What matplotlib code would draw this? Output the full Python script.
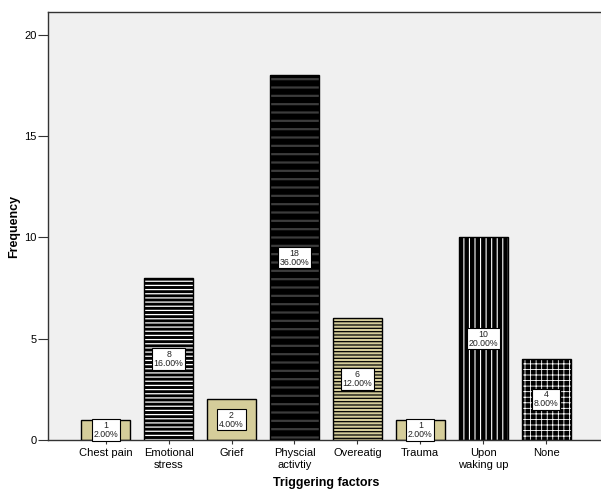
import matplotlib
matplotlib.use("Agg")
import matplotlib.pyplot as plt

categories = ["Chest pain", "Emotional\nstress", "Grief", "Physcial\nactivtiy",
              "Overeatig", "Trauma", "Upon\nwaking up", "None"]
counts = [1, 8, 2, 18, 6, 1, 10, 4]
percents = ["2.00%", "16.00%", "4.00%", "36.00%", "12.00%", "2.00%", "20.00%", "8.00%"]
yticks = [0, 5, 10, 15, 20]

khaki = "#D5CD9A"
fills = [khaki, "black", khaki, "black", khaki, khaki, "black", "black"]
hatches = [None, "----", None, "--", "-----", None, "|||", "+++"]
hatch_colors = [khaki, "white", khaki, "#3c3c3c", "black", khaki, "white", "white"]
hatch_lw = [1.0, 0.9, 1.0, 1.6, 0.9, 1.0, 0.8, 0.6]

plt.rcParams['font.family'] = ['Liberation Sans', 'DejaVu Sans']

fig = plt.figure(figsize=(6.01, 4.91), dpi=100)
fig.patch.set_facecolor("white")
ax = fig.add_axes([48/601, 51/491, (604-48)/601, 428/491])
ax.set_facecolor("#F0F0F0")

x = list(range(len(categories)))
w = 0.78
for i in x:
    with plt.rc_context({'hatch.linewidth': hatch_lw[i]}):
        ax.bar(i, counts[i], width=w, color=fills[i], hatch=hatches[i],
               edgecolor=hatch_colors[i], linewidth=0, zorder=2)
    ax.bar(i, counts[i], width=w, fill=False, edgecolor="black",
           linewidth=1.0, zorder=3)
    ax.text(i, counts[i] / 2, f"{counts[i]}\n{percents[i]}", ha="center", va="center",
            fontsize=6.3, linespacing=1.0, zorder=5, color="#222222",
            bbox=dict(boxstyle="square,pad=0.2", facecolor="white",
                      edgecolor="black", linewidth=0.8))

ax.set_xlim(-0.917, 7.92)
ax.set_ylim(0, 21.13)
ax.set_xticks(x)
ax.set_xticklabels(categories, fontsize=8, linespacing=1.25)
ax.set_yticks(yticks)
ax.set_yticklabels([str(v) for v in yticks], fontsize=8)
ax.tick_params(axis="y", length=7, width=0.8, pad=1, color="#333333")
ax.tick_params(axis="x", length=3, width=0.8, pad=3, color="#333333")

for s in ["left", "top", "bottom"]:
    ax.spines[s].set_color("#333333")
    ax.spines[s].set_linewidth(1.0)
ax.spines["right"].set_visible(False)

ax.set_xlabel("Triggering factors", fontsize=9, fontweight="bold", labelpad=5)
ax.set_ylabel("Frequency", fontsize=9, fontweight="bold", labelpad=3)

fig.savefig("out.png", dpi=100)
